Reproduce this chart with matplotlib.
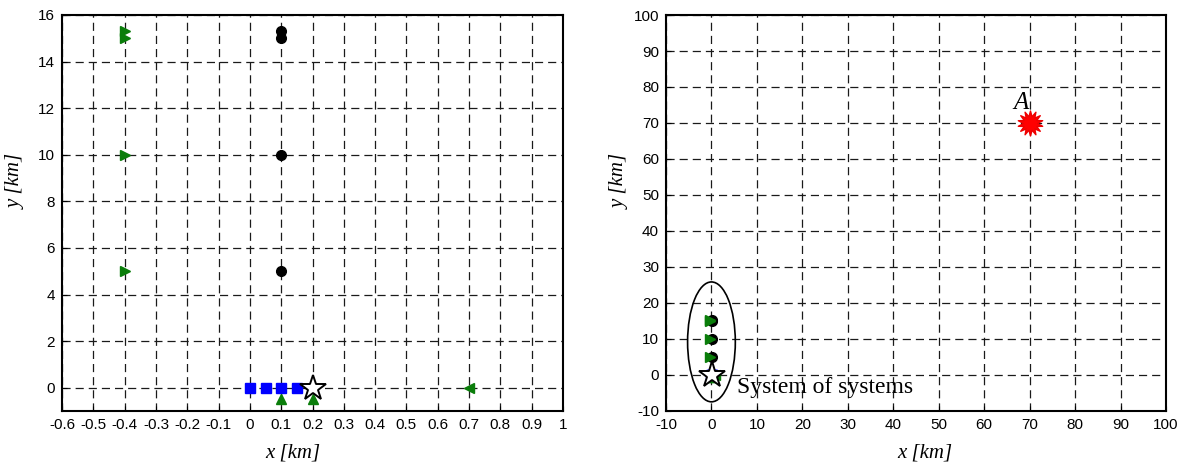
import numpy as np
import matplotlib
matplotlib.use("Agg")
import matplotlib.pyplot as plt
from matplotlib.patches import Ellipse
from matplotlib.path import Path

# ---- data ----
tri_right_x = [-0.4, -0.4, -0.4, -0.4]
tri_right_y = [5, 10, 15, 15.3]
circ_x = [0.1, 0.1, 0.1, 0.1]
circ_y = [5, 10, 15, 15.3]
sq_x = [0.0, 0.05, 0.1, 0.15]
sq_y = [0, 0, 0, 0]
tri_up_x = [0.1, 0.2]
tri_up_y = [-0.5, -0.5]
tri_left_x = [0.7]
tri_left_y = [0]
star_x = [0.2]
star_y = [0]
target_x = [70]
target_y = [70]
target_label = "A"
sos_label = "System of systems"
ellipse_center = (0, 9.2)
ellipse_size = (10.5, 33.3)

left_xticks = [round(v, 1) for v in np.arange(-0.6, 1.01, 0.1)]
left_xticklabels = ["-0.6", "-0.5", "-0.4", "-0.3", "-0.2", "-0.1", "0", "0.1", "0.2",
                    "0.3", "0.4", "0.5", "0.6", "0.7", "0.8", "0.9", "1"]
left_yticks = [0, 2, 4, 6, 8, 10, 12, 14, 16]
right_ticks = [-10, 0, 10, 20, 30, 40, 50, 60, 70, 80, 90, 100]

plt.rcParams['font.family'] = ['Liberation Sans', 'DejaVu Sans']
plt.rcParams['axes.unicode_minus'] = False

fig = plt.figure(figsize=(11.85, 4.7), dpi=100)
W, H = 1185, 470
axL = fig.add_axes([62 / W, (H - 411) / H, 501 / W, 396 / H])
axR = fig.add_axes([666 / W, (H - 411) / H, 500 / W, 396 / H])

# burst marker
n = 14
ang = np.linspace(0, 2 * np.pi, 2 * n, endpoint=False) + np.pi / 2
rad = np.where(np.arange(2 * n) % 2 == 0, 1.0, 0.55)
verts = np.column_stack([rad * np.cos(ang), rad * np.sin(ang)])
verts = np.vstack([verts, verts[0]])
codes = [Path.MOVETO] + [Path.LINETO] * (2 * n - 1) + [Path.CLOSEPOLY]
burst = Path(verts, codes)

green = '#0a7d0a'


def draw_common(ax, star_ms):
    ax.plot(circ_x, circ_y, linestyle='none', marker='o', color='k', ms=7, zorder=3)
    ax.plot(tri_right_x, tri_right_y, linestyle='none', marker='>', color=green, ms=7, zorder=3.5)
    ax.plot(sq_x, sq_y, linestyle='none', marker='s', color='#0000ff', ms=7, zorder=3)
    ax.plot(tri_up_x, tri_up_y, linestyle='none', marker='^', color=green, ms=7, zorder=3)
    ax.plot(tri_left_x, tri_left_y, linestyle='none', marker='<', color=green, ms=7, zorder=3)
    ax.plot(star_x, star_y, linestyle='none', marker='*', mfc='white', mec='k', mew=1.4,
            ms=star_ms, zorder=4)


def style(ax):
    ax.grid(True, linestyle=(0, (6.5, 4)), color='#1a1a1a', linewidth=0.9)
    ax.set_axisbelow(True)
    for s in ax.spines.values():
        s.set_linewidth(1.5)
        s.set_color('k')
    ax.tick_params(direction='in', length=3.5, width=0.8, labelsize=11, pad=5,
                   top=False, right=False)


label_kw = dict(family='Liberation Serif', style='italic', fontsize=15)

# left
draw_common(axL, 19)
axL.set_xlim(-0.6, 1.0)
axL.set_ylim(-1, 16)
axL.set_xticks(left_xticks)
axL.set_xticklabels(left_xticklabels)
axL.set_yticks(left_yticks)
style(axL)
axL.set_xlabel('x [km]', **label_kw)
axL.set_ylabel('y [km]', **label_kw)
axL.xaxis.set_label_coords(0.46, -0.083)
axL.yaxis.set_label_coords(-0.072, 0.58)

# right
draw_common(axR, 20)
axR.add_patch(Ellipse(ellipse_center, ellipse_size[0], ellipse_size[1], fill=False,
                      edgecolor='k', linewidth=1.2, zorder=3))
axR.plot(target_x, target_y, linestyle='none', marker=burst, color='#ff0000', mec='#ee0000',
         ms=18, zorder=4)
axR.text(target_x[0] - 2, target_y[0] + 5.5, target_label, family='Liberation Serif',
         style='italic', fontsize=18, ha='center', va='center')
axR.text(5.7, -3.5, sos_label, family='Liberation Serif', fontsize=17, ha='left', va='center')
axR.set_xlim(-10, 100)
axR.set_ylim(-10, 100)
axR.set_xticks(right_ticks)
axR.set_yticks(right_ticks)
style(axR)
axR.set_xlabel('x [km]', **label_kw)
axR.set_ylabel('y [km]', **label_kw)
axR.xaxis.set_label_coords(0.518, -0.083)
axR.yaxis.set_label_coords(-0.072, 0.58)

fig.savefig('out.png', dpi=100)
